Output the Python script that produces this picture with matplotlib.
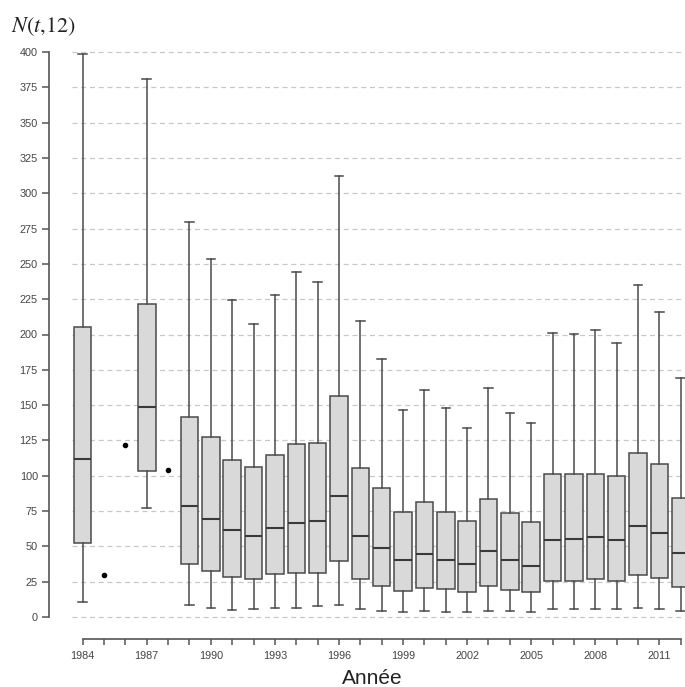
import matplotlib
matplotlib.use("Agg")
import matplotlib.pyplot as plt

plt.rcParams['font.family'] = ['Liberation Sans', 'DejaVu Sans']
plt.rcParams['mathtext.fontset'] = 'stix'

# years with a full boxplot
box_years = [1984, 1987] + list(range(1989, 2013))
whislo = [10.4, 77.2, 8.7, 6.4, 5.3, 5.4, 6.6, 6.6, 7.5, 8.5, 5.4, 4.2, 3.5, 4.2, 3.5,
          3.5, 4.2, 4.2, 3.5, 5.4, 5.4, 5.4, 5.4, 6.6, 5.4, 4.2]
q1 = [52.4, 103.4, 37.3, 32.3, 28.2, 26.7, 30.7, 31.4, 31.1, 39.9, 26.9, 22.2, 18.4, 20.5, 19.6,
      17.5, 22.2, 19.4, 17.5, 25.7, 25.7, 26.7, 25.7, 29.5, 27.4, 21.5]
med = [111.9, 148.6, 78.6, 69.6, 61.6, 57.6, 63.2, 66.8, 68.2, 85.4, 57.6, 49.1, 40.4, 44.8, 40.4,
       37.5, 46.5, 40.4, 36.3, 54.5, 55.5, 56.6, 54.5, 64.4, 59.5, 45.1]
q3 = [205.5, 221.4, 141.6, 127.2, 111.5, 106.4, 114.5, 122.2, 123.4, 156.5, 105.5, 91.3, 74.6, 81.2, 74.6,
      68.2, 83.5, 73.4, 67.0, 101.2, 101.2, 101.2, 100.0, 115.9, 108.1, 84.5]
whishi = [398.6, 380.9, 279.3, 253.2, 224.3, 207.4, 228.2, 244.2, 236.9, 312.5, 209.6, 182.9, 146.5, 160.5, 148.2,
          134.0, 162.4, 144.4, 137.3, 201.1, 200.6, 203.2, 194.2, 235.3, 216.2, 169.4]

# years with a single observation
point_years = [1985, 1986, 1988]
point_values = [29.5, 122.0, 104.0]

xtick_labels = [str(y) if (y - 1984) % 3 == 0 else '' for y in range(1984, 2013)]
yticks = list(range(0, 401, 25))

W, H = 685, 687
fig = plt.figure(figsize=(W / 100, H / 100), dpi=100)
ax = fig.add_axes([72 / W, (H - 622) / H, (W - 72) / W, (622 - 47) / H])

stats = [dict(whislo=a, q1=b, med=c, q3=d, whishi=e, fliers=[])
         for a, b, c, d, e in zip(whislo, q1, med, q3, whishi)]

edge = '#4a4a4a'
ax.bxp(stats, positions=box_years, widths=0.82, capwidths=0.4, patch_artist=True,
       showfliers=False, manage_ticks=False,
       boxprops=dict(facecolor='#d9d9d9', edgecolor=edge, linewidth=1.1),
       medianprops=dict(color='#3a3a3a', linewidth=1.5),
       whiskerprops=dict(color=edge, linewidth=1.1),
       capprops=dict(color=edge, linewidth=1.1))
ax.scatter(point_years, point_values, s=9, color='black', zorder=3)

for y in yticks:
    ax.axhline(y, color='#c8c8c8', linewidth=0.9, linestyle=(0, (4, 3)), zorder=0)

ax.set_xlim(1983.5, 2012.2)
ax.set_ylim(-3.54, 403.54)

ax.set_xticks(range(1984, 2013))
ax.set_xticklabels(xtick_labels)
ax.set_yticks(yticks)
ax.set_yticklabels([str(y) for y in yticks])

for s in ['top', 'right']:
    ax.spines[s].set_visible(False)
ax.spines['left'].set_position(('outward', 23 * 0.72))
ax.spines['bottom'].set_position(('outward', 17 * 0.72))
ax.spines['left'].set_bounds(0, 400)
ax.spines['bottom'].set_bounds(1984, 2012)
for s in ['left', 'bottom']:
    ax.spines[s].set_color('#555555')
    ax.spines[s].set_linewidth(1.2)

ax.tick_params(axis='y', length=5, width=1.1, color='#555555', labelsize=7.8,
               labelcolor='#444444', pad=3)
ax.tick_params(axis='x', length=4.3, width=1.1, color='#555555', labelsize=7.8,
               labelcolor='#444444', pad=4)

fig.text(372 / W, 1 - 678 / H, 'Année', ha='center', va='center', fontsize=15, color='#222222')
fig.text(11 / W, 1 - 27 / H, r'$N(t{,}12)$', ha='left', va='center', fontsize=16, color='#222222')

fig.savefig('out.png', dpi=100)
